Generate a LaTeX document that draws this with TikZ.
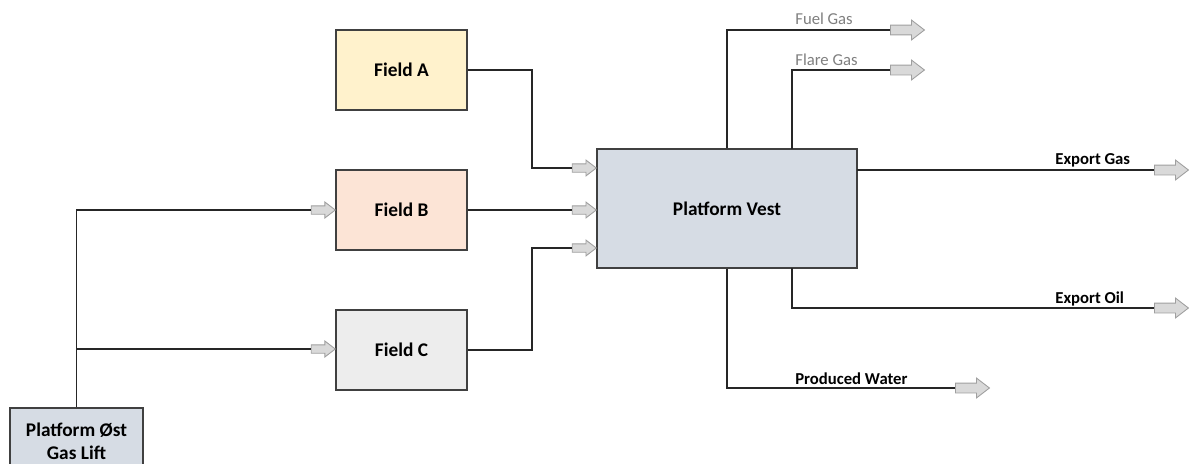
\documentclass[tikz,border=0pt]{standalone}
\usepackage{fontspec}
\setmainfont{Carlito}
\usetikzlibrary{shapes.arrows,positioning}
\definecolor{amarelo}{HTML}{FFF2CC}
\definecolor{pessego}{HTML}{FCE4D6}
\definecolor{cinzaclaro}{HTML}{EDEDED}
\definecolor{azulcinza}{HTML}{D6DCE4}
\definecolor{borda}{HTML}{404040}
\definecolor{rotcinza}{HTML}{7F7F7F}

\begin{document}
\begin{tikzpicture}[x=0.02cm, y=-0.02cm,
  campo/.style={draw=borda, line width=0.7pt, minimum width=2.62cm,
                minimum height=1.6cm, align=center,
                font=\bfseries\fontsize{11}{13}\selectfont},
  plataforma/.style={campo, fill=azulcinza, minimum width=5.2cm,
                     minimum height=2.38cm},
  seta/.style={single arrow, draw=gray!75, fill=gray!30, line width=0.5pt,
               minimum height=0.48cm, minimum width=0.3cm,
               single arrow head extend=0.075cm, single arrow tip angle=75,
               inner xsep=0pt, inner ysep=0.075cm},
  setasaida/.style={seta, minimum height=0.68cm, minimum width=0.38cm,
                    single arrow head extend=0.1cm, inner ysep=0.09cm},
  linha/.style={draw=black!85, line width=0.6pt},
  rotulo/.style={font=\bfseries\fontsize{9.5}{11}\selectfont, inner sep=0pt},
  rotcinza/.style={font=\fontsize{9.5}{11}\selectfont, text=rotcinza,
                   inner sep=0pt}
]
\useasboundingbox (0,0) rectangle (1189,463);

% campos e plataformas
\node[campo, fill=amarelo]    (fA) at (401.5,70)  {Field A};
\node[campo, fill=pessego]    (fB) at (401.5,210) {Field B};
\node[campo, fill=cinzaclaro] (fC) at (401.5,350) {Field C};
\node[plataforma] (pV) at (727,208.5) {Platform Vest};
\node[plataforma, minimum width=2.66cm, minimum height=1.32cm]
  (pO) at (76.5,441) {Platform Øst\\Gas Lift};

% setas de entrada
\node[seta, anchor=tip] (eA)  at (597,168) {};
\node[seta, anchor=tip] (eB)  at (597,210) {};
\node[seta, anchor=tip] (eC)  at (597,248) {};
\node[seta, anchor=tip] (gB)  at (336,210) {};
\node[seta, anchor=tip] (gC)  at (336,349) {};

% setas de saida
\node[setasaida, anchor=tail] (sFuel)  at (890,30)   {};
\node[setasaida, anchor=tail] (sFlare) at (890,70)   {};
\node[setasaida, anchor=tail] (sGas)   at (1154,170) {};
\node[setasaida, anchor=tail] (sOil)   at (1154,308) {};
\node[setasaida, anchor=tail] (sWater) at (955,388)  {};

\coordinate (vN2) at (792,149);
\coordinate (vE)  at (857,170);
\coordinate (vS2) at (792,268);
\coordinate (jC)  at (pO.north |- gC.tail);

\draw[linha] (fA.east) -- (532,70) |- (eA.tail);
\draw[linha] (fB.east) -- (eB.tail);
\draw[linha] (fC.east) -- (532,350) |- (eC.tail);
\draw[linha] (pO.north) |- (gB.tail);
\draw[linha] (jC) -- (gC.tail);

\draw[linha] (pV.north) |- (sFuel.tail);
\draw[linha] (vN2) |- (sFlare.tail);
\draw[linha] (vE) -- (sGas.tail);
\draw[linha] (vS2) |- (sOil.tail);
\draw[linha] (pV.south) |- (sWater.tail);

% rotulos
\node[rotcinza, anchor=base west] (lFuel)  at (795,24)  {Fuel Gas};
\node[rotcinza, anchor=base west] (lFlare) at (795,65)  {Flare Gas};
\node[rotulo, anchor=base west]   (lGas)   at (1055,164) {Export Gas};
\node[rotulo, anchor=base west]   (lOil)   at (1055,303) {Export Oil};
\node[rotulo, anchor=base west]   (lWater) at (795,384)  {Produced Water};
\end{tikzpicture}
\end{document}
